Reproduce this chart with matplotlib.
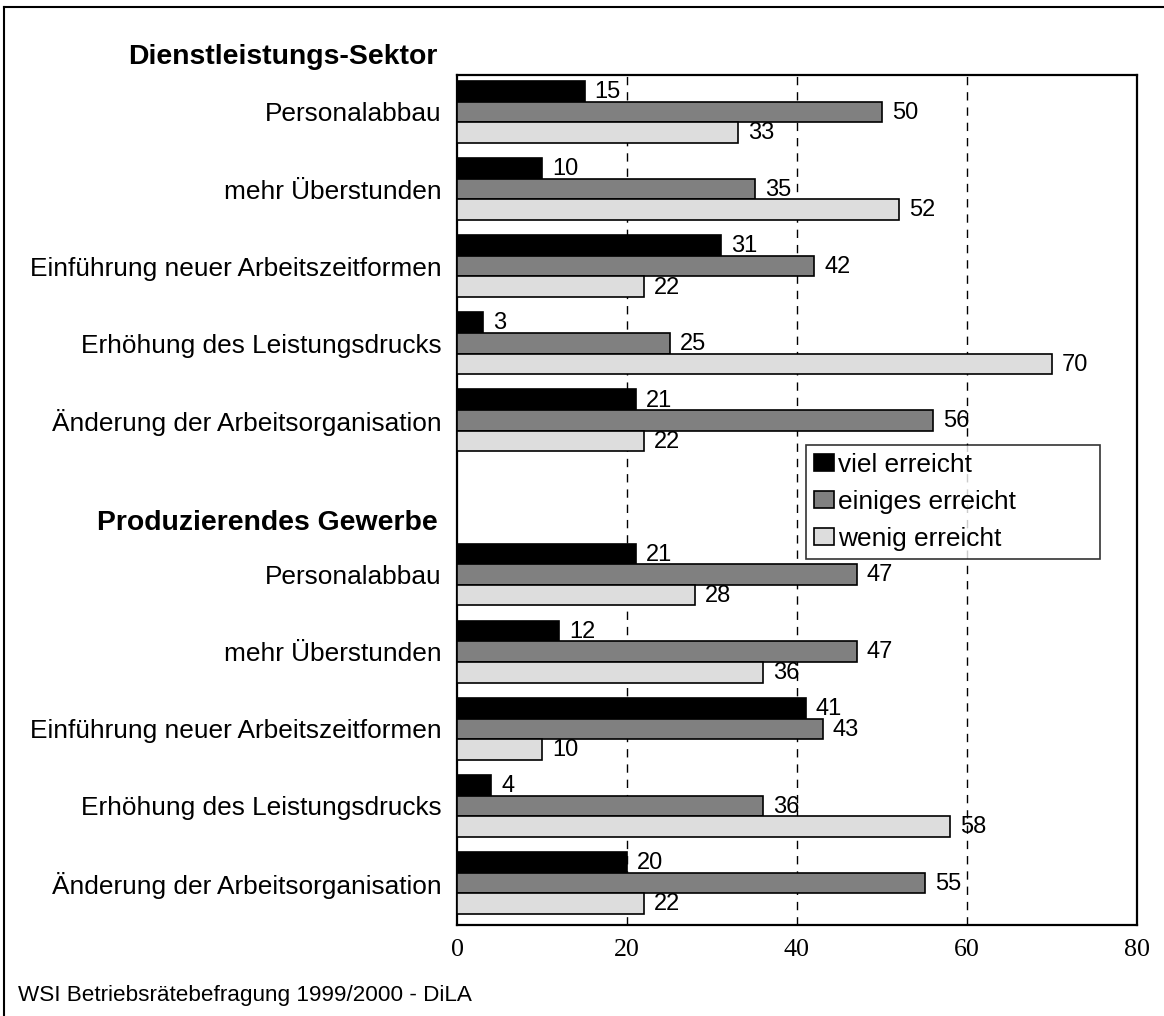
import numpy as np
import matplotlib.pyplot as plt
from matplotlib.lines import Line2D

# Data
measures = ['Personalabbau', 'mehr Überstunden', 'Einführung neuer Arbeitszeitformen',
            'Erhöhung des Leistungsdrucks', 'Änderung der Arbeitsorganisation']
sections = ['Dienstleistungs-Sektor', 'Produzierendes Gewerbe']
series = ['viel erreicht', 'einiges erreicht', 'wenig erreicht']

dienst_viel = [15, 10, 31, 3, 21]
dienst_einiges = [50, 35, 42, 25, 56]
dienst_wenig = [33, 52, 22, 70, 22]

prod_viel = [21, 12, 41, 4, 20]
prod_einiges = [47, 47, 43, 36, 55]
prod_wenig = [28, 36, 10, 58, 22]

colors = ['#000000', '#808080', '#dddddd']
font = 'Liberation Sans'
W, H = 1164, 1016

fig = plt.figure(figsize=(W / 100, H / 100), dpi=100)
ax = fig.add_axes([457 / W, 1 - 925 / H, 680 / W, 850 / H])

# slot positions: section 1 on 0..4, section 2 on 6..10
pos = np.concatenate([np.arange(5), np.arange(5) + 6])
viel = dienst_viel + prod_viel
einiges = dienst_einiges + prod_einiges
wenig = dienst_wenig + prod_wenig

h = 0.267
for i, (vals, col, lab) in enumerate(zip([viel, einiges, wenig], colors, series)):
    y = pos + (i - 1) * h
    ax.barh(y, vals, height=h, color=col, edgecolor='black', linewidth=1.2, label=lab, zorder=3)
    for yy, v in zip(y, vals):
        ax.text(v + 1.2, yy + 0.01, str(v), va='center', ha='left', fontsize=17,
                family=font, zorder=4)

ax.set_xlim(0, 80)
ax.set_ylim(10.544, -0.479)
ax.set_xticks([0, 20, 40, 60, 80])
ax.set_xticklabels(['0', '20', '40', '60', '80'], family='Liberation Serif', fontsize=18.7)
ax.tick_params(axis='x', length=0, pad=10)
ax.set_yticks(pos)
ax.set_yticklabels(measures * 2, family=font, fontsize=18.9)
ax.tick_params(axis='y', length=0, pad=11)
for x in [20, 40, 60]:
    ax.axvline(x, color='black', linestyle=(0, (6, 5)), linewidth=1, zorder=1)
for s in ax.spines.values():
    s.set_linewidth(1.6)

# Section headers
fig.text(438 / W, 1 - 57 / H, sections[0], ha='right', va='center',
         fontsize=20.4, fontweight='bold', family=font)
fig.text(438 / W, 1 - 523 / H, sections[1], ha='right', va='center',
         fontsize=20.4, fontweight='bold', family=font)

leg = ax.legend(loc='upper left', bbox_to_anchor=(0.513, 0.434, 0.432, 0.131), mode='expand',
                prop={'family': font, 'size': 18.9},
                frameon=True, fancybox=False, edgecolor='black', handlelength=0.78,
                handleheight=0.65, handletextpad=0.15, borderpad=0.3, labelspacing=0.5,
                borderaxespad=0)
leg.get_frame().set_linewidth(1.2)
leg.set_zorder(5)

fig.text(18 / W, 1 - 995 / H, 'WSI Betriebsrätebefragung 1999/2000 - DiLA',
         ha='left', va='center', fontsize=16.2, family=font)

# outer frame (left and top edges visible)
fig.lines.append(Line2D([4 / W, 4 / W], [0, 1 - 7 / H], color='black', linewidth=1.5,
                        transform=fig.transFigure))
fig.lines.append(Line2D([4 / W, 1], [1 - 7 / H, 1 - 7 / H], color='black', linewidth=1.5,
                        transform=fig.transFigure))

fig.savefig('out.png', dpi=100)
